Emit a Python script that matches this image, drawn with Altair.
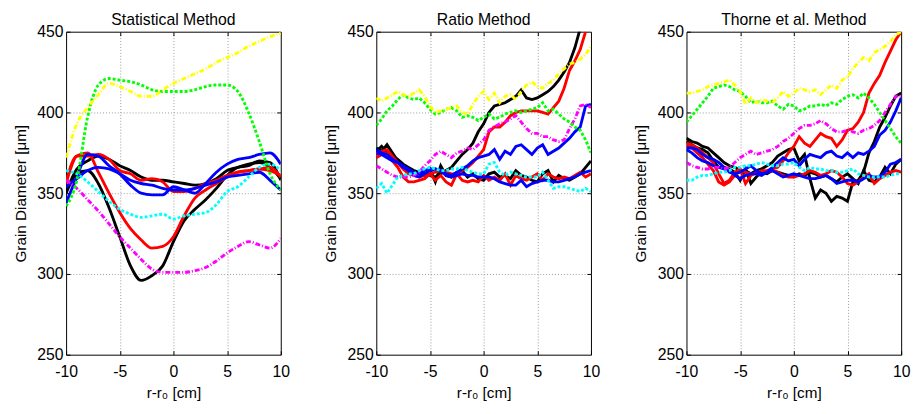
import altair as alt
import pandas as pd

# ---------------- data ----------------
X_COARSE = [-10, -9, -8, -7, -6, -5, -4, -3, -2, -1, 0, 1, 2, 3, 4, 5, 6, 7, 8, 9, 10]
X_FINE = [-10.0, -9.5, -9.0, -8.5, -8.0, -7.5, -7.0, -6.5, -6.0, -5.5, -5.0, -4.5, -4.0, -3.5,
          -3.0, -2.5, -2.0, -1.5, -1.0, -0.5, 0.0, 0.5, 1.0, 1.5, 2.0, 2.5, 3.0, 3.5, 4.0, 4.5,
          5.0, 5.5, 6.0, 6.5, 7.0, 7.5, 8.0, 8.5, 9.0, 9.5, 10.0]
X_TICKS = [-10, -5, 0, 5, 10]
X_GRID = [-5, 0, 5]
Y_TICKS = [250, 300, 350, 400, 450]
Y_GRID = [300, 350, 400]
TITLES = ["Statistical Method", "Ratio Method", "Thorne et al. Method"]

# Statistical method (x = X_COARSE)
STAT_YELLOW = [372, 393, 403, 411, 418, 416, 413, 410, 410, 414, 418, 421, 424, 427, 431, 434, 437, 441, 444, 447, 449]
STAT_GREEN = [342, 358, 397, 417, 421, 420, 419, 417, 414, 413, 413, 413, 414, 416, 417, 417, 413, 400, 382, 362, 352]
STAT_MAGENTA = [358, 353, 346, 339, 331, 323, 316, 309, 303, 301, 301, 301, 302, 304, 308, 313, 317, 320, 318, 316, 322]
STAT_CYAN = [364, 362, 357, 351, 345, 340, 337, 335, 336, 337, 334, 336, 337, 338, 343, 351, 354, 360, 366, 368, 364]
STAT_RED_A = [356, 373, 375, 363, 350, 338, 328, 321, 316, 317, 323, 336, 347, 352, 356, 360, 363, 364, 365, 364, 361]
STAT_RED_B = [357, 373, 373, 374, 371, 364, 362, 358, 359, 357, 351, 351, 353, 356, 358, 361, 363, 364, 365, 366, 360]
STAT_BLACK_A = [350, 362, 364, 356, 341, 323, 305, 296, 299, 305, 320, 333, 340, 346, 353, 361, 366, 367, 370, 369, 358]
STAT_BLACK_B = [351, 365, 370, 373, 371, 367, 364, 360, 358, 358, 357, 356, 355, 356, 359, 364, 366, 368, 369, 366, 359]
STAT_BLUE_A = [344, 360, 374, 373, 367, 362, 355, 350, 349, 349, 354, 352, 350, 356, 363, 368, 371, 372, 374, 375, 368]
STAT_BLUE_B = [354, 359, 364, 366, 365, 362, 358, 356, 355, 353, 352, 352, 353, 355, 357, 360, 361, 362, 363, 358, 352]

# Ratio method (x = X_FINE)
RATIO_YELLOW = [409, 407, 409, 411, 413, 411, 410, 412, 414, 410, 404, 400, 401, 402, 403, 404, 400, 399, 405, 410,
                413, 408, 412, 406, 410, 411, 408, 413, 417, 419, 416, 415, 418, 420, 424, 427, 430, 431, 433, 436, 441]
RATIO_GREEN = [392, 396, 401, 404, 408, 411, 409, 408, 409, 406, 402, 399, 400, 402, 403, 401, 397, 398, 397, 395,
               397, 399, 396, 397, 399, 400, 401, 400, 401, 402, 403, 406, 401, 402, 399, 396, 394, 391, 389, 383, 375]
RATIO_MAGENTA = [367, 365, 363, 361, 360, 360, 360, 361, 363, 367, 370, 374, 376, 374, 372, 375, 376, 378, 377, 380,
                 383, 389, 391, 393, 394, 396, 398, 394, 390, 387, 387, 385, 385, 383, 382, 383, 390, 396, 404, 405, 403]
RATIO_CYAN = [353, 356, 350, 355, 360, 361, 362, 362, 364, 365, 366, 365, 364, 364, 365, 365, 366, 364, 363, 362,
              362, 368, 369, 363, 361, 363, 362, 361, 360, 360, 360, 363, 358, 353, 354, 354, 353, 352, 351, 353, 351]
RATIO_BLACK_A = [376, 379, 375, 373, 371, 368, 366, 364, 363, 362, 361, 360, 362, 364, 366, 370, 374, 377, 381, 388,
                 393, 400, 404, 405, 406, 408, 410, 414, 409, 408, 409, 411, 413, 416, 420, 425, 431, 440, 452, None, None]
RATIO_RED_A = [374, 376, 377, 373, 369, 365, 362, 361, 360, 361, 362, 363, 364, 363, 362, 362, 364, 366, 369, 373,
               377, 388, 391, 391, 394, 398, 400, 401, 401, 401, 401, 400, 399, 403, 407, 415, 426, 432, 439, 450, None]
RATIO_BLUE_A = [377, 375, 374, 371, 369, 367, 365, 363, 362, 364, 365, 365, 364, 362, 361, 363, 365, 367, 370, 372,
                373, 374, 377, 371, 376, 374, 379, 380, 377, 374, 378, 380, 374, 376, 378, 381, 384, 388, 391, 404, 405]
RATIO_BLACK_B = [378, 376, 380, 375, 370, 366, 363, 362, 362, 361, 365, 357, 367, 361, 360, 363, 364, 360, 362, 359,
                 358, 362, 363, 360, 361, 359, 364, 361, 360, 358, 357, 362, 364, 357, 361, 359, 358, 360, 362, 366, 370]
RATIO_RED_B = [372, 374, 375, 370, 366, 360, 357, 357, 358, 359, 362, 358, 361, 357, 355, 362, 358, 357, 358, 357,
               361, 358, 360, 358, 362, 355, 361, 359, 358, 360, 362, 358, 362, 360, 359, 360, 359, 361, 363, 360, 362]
RATIO_BLUE_B = [375, 374, 372, 370, 369, 366, 364, 361, 360, 362, 364, 365, 364, 361, 360, 361, 362, 361, 361, 360,
                360, 360, 359, 357, 356, 355, 355, 358, 354, 356, 357, 358, 358, 357, 357, 358, 359, 360, 362, 363, 364]

# Thorne et al. method (x = X_FINE)
THORNE_YELLOW = [412, 412, 413, 414, 416, 417, 418, 419, 420, 417, 413, 405, 409, 406, 408, 407, 406, 409, 413, 410,
                 412, 415, 414, 413, 414, 411, 414, 417, 415, 420, 422, 427, 431, 434, 432, 437, 439, 441, 444, 448, 450]
THORNE_GREEN = [394, 398, 402, 406, 410, 415, 416, 417, 416, 414, 413, 410, 406, 407, 406, 406, 407, 404, 402, 405,
                404, 401, 402, 404, 404, 405, 404, 406, 405, 408, 410, 411, 409, 412, 409, 405, 400, 395, 390, 385, 381]
THORNE_MAGENTA = [369, 367, 366, 365, 365, 366, 366, 365, 366, 369, 372, 374, 376, 374, 375, 376, 377, 379, 382, 384,
                  387, 390, 392, 392, 393, 395, 393, 390, 388, 388, 389, 388, 387, 389, 390, 392, 395, 400, 405, 410, 410]
THORNE_CYAN = [358, 358, 360, 361, 361, 362, 363, 363, 364, 366, 366, 367, 367, 368, 369, 368, 367, 367, 368, 368,
               369, 366, 364, 366, 365, 365, 364, 364, 363, 363, 364, 365, 362, 361, 360, 360, 360, 360, 361, 362, 362]
THORNE_RED_A = [381, 380, 378, 375, 372, 369, 362, 356, 358, 363, 365, 356, 361, 363, 364, 364, 365, 366, 370, 375,
                379, 385, 381, 379, 383, 387, 385, 384, 379, 383, 389, 390, 394, 400, 412, 418, 423, 431, 438, 445, 450]
THORNE_BLUE_A = [378, 378, 377, 374, 372, 371, 369, 366, 363, 362, 363, 365, 367, 364, 362, 363, 366, 369, 372, 370,
                 371, 367, 371, 374, 373, 372, 375, 376, 373, 372, 375, 372, 375, 374, 376, 379, 386, 389, 394, 401, 409]
THORNE_BLACK_A = [384, 382, 381, 379, 378, 375, 372, 369, 367, 366, 364, 364, 362, 364, 365, 367, 369, 373, 375, 377,
                  378, 370, 374, 359, 347, 352, 350, 345, 348, 347, 345, 357, 358, 363, 375, 382, 391, 397, 404, 410, 412]
THORNE_BLACK_B = [382, 380, 378, 377, 375, 370, 366, 366, 365, 363, 358, 365, 356, 360, 363, 362, 364, 363, 362, 361,
                  360, 362, 361, 363, 362, 360, 361, 359, 357, 360, 362, 359, 356, 364, 358, 357, 360, 366, 362, 368, 371]
THORNE_RED_B = [380, 378, 375, 372, 368, 364, 357, 355, 357, 361, 364, 363, 362, 362, 362, 363, 364, 363, 361, 360,
                360, 361, 362, 364, 363, 361, 362, 364, 363, 360, 356, 355, 357, 360, 362, 356, 359, 361, 363, 364, 363]
THORNE_BLUE_B = [377, 375, 372, 370, 369, 367, 366, 365, 364, 361, 359, 361, 362, 362, 361, 363, 364, 362, 360, 361,
                 362, 361, 360, 359, 359, 360, 361, 359, 356, 357, 358, 358, 357, 359, 361, 360, 360, 363, 368, 369, 371]

# drawing order, colour and dash pattern of each series
SERIES = ["black_a", "black_b", "red_a", "red_b", "blue_a", "blue_b", "magenta", "cyan", "green", "yellow"]
COLORS = {"black_a": "#000000", "black_b": "#000000", "red_a": "#ff0000", "red_b": "#ff0000",
          "blue_a": "#0000ff", "blue_b": "#0000ff", "magenta": "#ff00ff", "cyan": "#00ffff",
          "green": "#00ff00", "yellow": "#ffff00"}
DASHES = {"magenta": [5, 2, 1, 2], "yellow": [5, 2, 1, 2], "cyan": [3, 2], "green": [3, 2]}


def build_frame(xs, series):
    rows = []
    for name, ys in series.items():
        for xv, yv in zip(xs, ys):
            rows.append({"series": name, "x": xv, "y": yv})
    return pd.DataFrame(rows)


STAT_DF = build_frame(X_COARSE, {
    "yellow": STAT_YELLOW, "green": STAT_GREEN, "magenta": STAT_MAGENTA, "cyan": STAT_CYAN,
    "red_a": STAT_RED_A, "red_b": STAT_RED_B, "black_a": STAT_BLACK_A, "black_b": STAT_BLACK_B,
    "blue_a": STAT_BLUE_A, "blue_b": STAT_BLUE_B})
RATIO_DF = build_frame(X_FINE, {
    "yellow": RATIO_YELLOW, "green": RATIO_GREEN, "magenta": RATIO_MAGENTA, "cyan": RATIO_CYAN,
    "red_a": RATIO_RED_A, "red_b": RATIO_RED_B, "black_a": RATIO_BLACK_A, "black_b": RATIO_BLACK_B,
    "blue_a": RATIO_BLUE_A, "blue_b": RATIO_BLUE_B})
THORNE_DF = build_frame(X_FINE, {
    "yellow": THORNE_YELLOW, "green": THORNE_GREEN, "magenta": THORNE_MAGENTA, "cyan": THORNE_CYAN,
    "red_a": THORNE_RED_A, "red_b": THORNE_RED_B, "black_a": THORNE_BLACK_A, "black_b": THORNE_BLACK_B,
    "blue_a": THORNE_BLUE_A, "blue_b": THORNE_BLUE_B})

# ---------------- chart ----------------
FONT = "Liberation Sans"
W, H = 218, 328
TICK = 4

x_scale = alt.Scale(domain=[-10, 10], nice=False, zero=False)
y_scale = alt.Scale(domain=[250, 450], nice=False, zero=False)

x_axis_main = alt.Axis(orient="bottom", values=X_TICKS, title="r-r₀ [cm]", grid=False, domain=False,
                       ticks=True, tickSize=TICK, offset=-TICK, labelPadding=9, labelFlush=False,
                       labelExpr="'' + datum.value", titlePadding=6)
y_axis_main = alt.Axis(orient="left", values=Y_TICKS, title="Grain Diameter [μm]", grid=False,
                       domain=False, ticks=True, tickSize=TICK, offset=-TICK, labelPadding=3,
                       labelFlush=False, titlePadding=9)
x_axis_top = alt.Axis(orient="top", values=X_GRID, title=None, labels=False, domain=False, ticks=True,
                      tickSize=TICK, offset=-TICK, grid=True, gridDash=[1, 2], gridColor="#9a9a9a",
                      gridWidth=1)
y_axis_right = alt.Axis(orient="right", values=Y_GRID, title=None, labels=False, domain=False, ticks=True,
                        tickSize=TICK, offset=-TICK, grid=True, gridDash=[1, 2], gridColor="#9a9a9a",
                        gridWidth=1)


def panel(df, title, interp):
    base = alt.Chart(df)
    layers = []
    for name in SERIES:
        kw = dict(color=COLORS[name], strokeWidth=2.9, clip=True, interpolate=interp, strokeCap="butt")
        if name in DASHES:
            kw["strokeDash"] = DASHES[name]
        layers.append(
            base.transform_filter(alt.datum.series == name)
            .transform_filter("isValid(datum.y)")
            .mark_line(**kw)
            .encode(x=alt.X("x:Q", scale=x_scale, axis=x_axis_main),
                    y=alt.Y("y:Q", scale=y_scale, axis=y_axis_main))
        )
    lines = alt.layer(*layers)
    frame = (
        base.transform_filter(alt.datum.series == "cyan")
        .mark_line(opacity=0)
        .encode(x=alt.X("x:Q", scale=x_scale, axis=x_axis_top),
                y=alt.Y("y:Q", scale=y_scale, axis=y_axis_right))
    )
    return (
        alt.layer(frame, lines)
        .resolve_axis(x="independent", y="independent")
        .properties(width=W, height=H,
                    title=alt.TitleParams(text=title, frame="group", anchor="middle", fontSize=16,
                                          font=FONT, fontWeight="normal", color="black", offset=-4))
    )


chart = (
    alt.hconcat(panel(STAT_DF, TITLES[0], "monotone"),
                panel(RATIO_DF, TITLES[1], "linear"),
                panel(THORNE_DF, TITLES[2], "linear"),
                spacing=32)
    .properties(padding={"left": 4, "top": 0, "right": 0, "bottom": 0})
    .configure_view(stroke="black", strokeWidth=1)
    .configure_axis(labelFont=FONT, titleFont=FONT, labelFontSize=16, titleFontSize=15.5,
                    labelColor="black", titleColor="black", tickColor="black", tickWidth=1,
                    titleFontWeight="normal")
)

chart.save("out.html", embed_options={"renderer": "svg", "actions": False})
